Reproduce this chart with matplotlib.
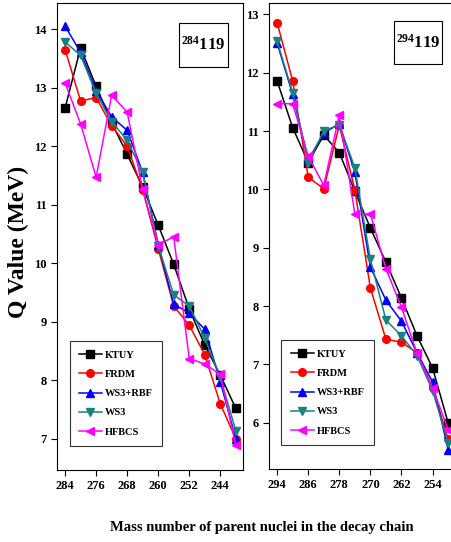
import matplotlib
matplotlib.use("Agg")
import matplotlib.pyplot as plt
from matplotlib.patches import Rectangle

plt.rcParams['font.family'] = ['Liberation Serif', 'DejaVu Serif']
plt.rcParams['font.weight'] = 'bold'
plt.rcParams['mathtext.fontset'] = 'custom'
plt.rcParams['mathtext.rm'] = 'Liberation Serif:bold'
plt.rcParams['mathtext.bf'] = 'Liberation Serif:bold'
plt.rcParams['mathtext.default'] = 'rm'

# 284-119 decay chain
mass_a = [284, 280, 276, 272, 268, 264, 260, 256, 252, 248, 244, 240]
ktuy_a = [12.65, 13.68, 13.02, 12.40, 11.86, 11.30, 10.65, 9.98, 9.22, 8.60, 8.09, 7.52]
frdm_a = [13.65, 12.77, 12.83, 12.35, 12.00, 11.25, 10.25, 9.27, 8.94, 8.44, 7.60, 7.00]
ws3rbf_a = [14.05, 13.60, 12.95, 12.50, 12.27, 11.55, 10.32, 9.30, 9.15, 8.87, 7.98, 7.00]
ws3_a = [13.78, 13.55, 12.90, 12.42, 12.10, 11.55, 10.30, 9.46, 9.27, 8.72, 8.05, 7.14]
hfbcs_a = [13.08, 12.38, 11.47, 12.87, 12.58, 11.26, 10.32, 10.45, 8.37, 8.28, 8.10, 6.89]

# 294-119 decay chain
mass_b = [294, 290, 286, 282, 278, 274, 270, 266, 262, 258, 254, 250]
ktuy_b = [11.86, 11.06, 10.46, 10.93, 10.63, 9.97, 9.34, 8.75, 8.14, 7.49, 6.94, 6.00]
frdm_b = [12.86, 11.86, 10.21, 10.01, 11.10, 9.99, 8.31, 7.43, 7.38, 7.20, 6.60, 5.72]
ws3rbf_b = [12.51, 11.63, 10.50, 10.97, 11.12, 10.30, 8.67, 8.10, 7.74, 7.20, 6.70, 5.54]
ws3_b = [12.54, 11.66, 10.46, 11.00, 11.11, 10.37, 8.80, 7.76, 7.49, 7.15, 6.55, 5.66]
hfbcs_b = [11.47, 11.47, 10.57, 10.07, 11.27, 9.58, 9.58, 8.64, 7.98, 7.19, 6.60, 5.88]

labels = ['KTUY', 'FRDM', 'WS3+RBF', 'WS3', 'HFBCS']
colors = ['black', 'red', 'blue', '#1a8080', '#ff00ff']
markers = ['s', 'o', '^', 'v', '<']

fig = plt.figure(figsize=(4.52, 5.42), dpi=100)
ax1 = fig.add_axes([0.126, 0.133, 0.412, 0.862])
ax2 = fig.add_axes([0.595, 0.135, 0.405, 0.860])

panels = [
    (ax1, mass_a, [ktuy_a, frdm_a, ws3rbf_a, ws3_a, hfbcs_a], '284', (0.656, 0.863, 0.263, 0.094),
     (286.1, 238.1), (6.47, 14.45), [284, 276, 268, 260, 252, 244], range(7, 15)),
    (ax2, mass_b, [ktuy_b, frdm_b, ws3rbf_b, ws3_b, hfbcs_b], '294', (0.681, 0.869, 0.264, 0.092),
     (296.1, 249.0), (5.21, 13.2), [294, 286, 278, 270, 262, 254], range(6, 14)),
]

for ax, mass, series, iso, box, xl, yl, xt, yt in panels:
    for vals, lab, c, m in zip(series, labels, colors, markers):
        ax.plot(mass, vals, color=c, marker=m, markersize=5.5, lw=1.1, label=lab)
    ax.set_xlim(*xl)
    ax.set_ylim(*yl)
    ax.set_xticks(xt)
    ax.set_yticks(list(yt))
    ax.tick_params(direction='out', length=4, labelsize=9)
    for lbl in ax.get_xticklabels() + ax.get_yticklabels():
        lbl.set_fontweight('bold')
    ax.add_patch(Rectangle((box[0], box[1]), box[2], box[3], transform=ax.transAxes,
                           fc='white', ec='black', lw=0.8, zorder=5))
    ax.text(box[0] + box[2] / 2, box[1] + box[3] / 2, r'$^{' + iso + r'}$119',
            transform=ax.transAxes, ha='center', va='center', fontsize=12,
            fontweight='bold', zorder=6)
    leg = ax.legend(loc='lower left', bbox_to_anchor=(0.04, 0.04), fontsize=7.5,
                    handlelength=2.2, frameon=True, fancybox=False,
                    edgecolor='black', borderpad=0.9, labelspacing=0.95,
                    handletextpad=0.3)
    leg.get_frame().set_linewidth(0.8)
    for t in leg.get_texts():
        t.set_fontweight('bold')

fig.text(0.04, 0.553, 'Q Value (MeV)', rotation=90, ha='center', va='center',
         fontsize=17, fontweight='bold')
fig.text(0.58, 0.026, 'Mass number of parent nuclei in the decay chain',
         ha='center', va='center', fontsize=10.5, fontweight='bold')

fig.savefig('out.png', dpi=100)
